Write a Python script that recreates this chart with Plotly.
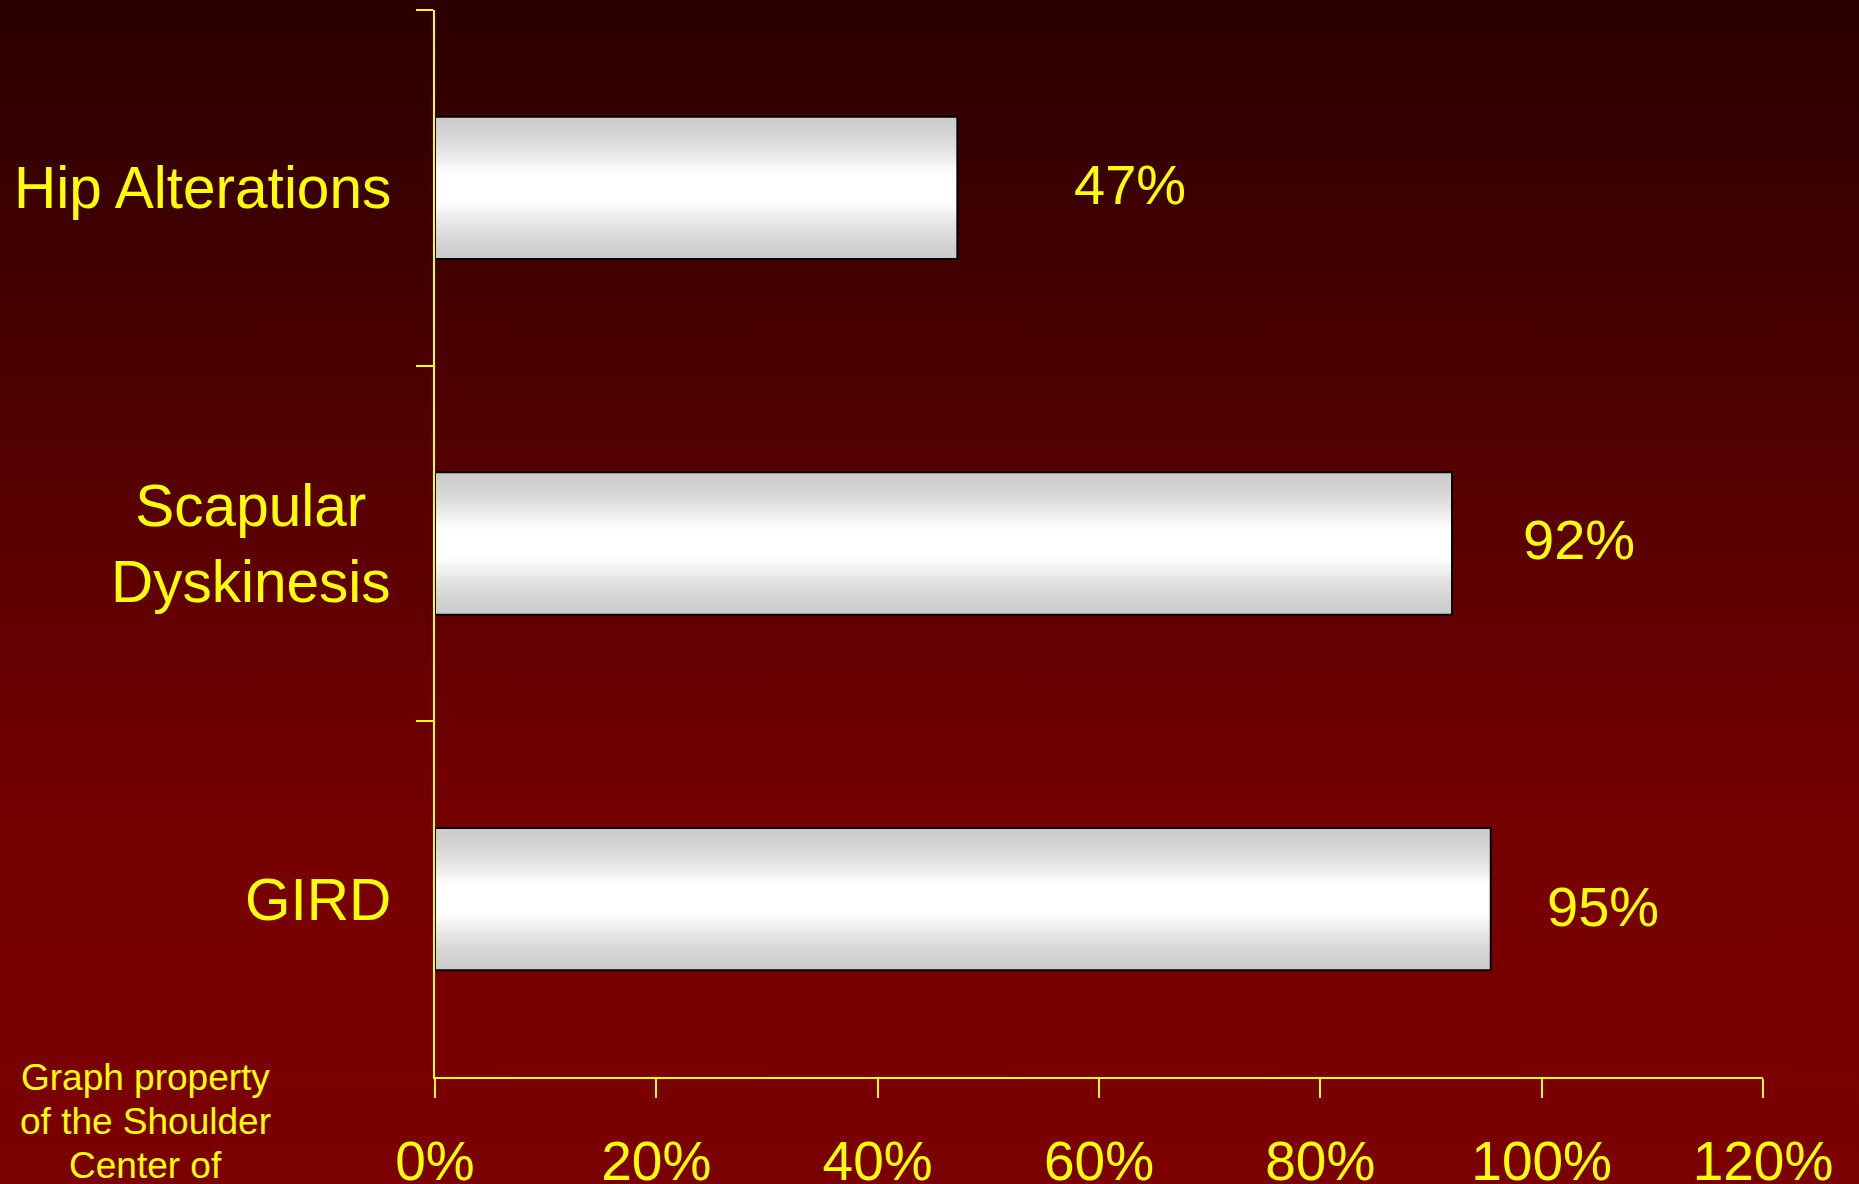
import base64
import plotly.graph_objects as go

# ---- data ----
categories = ["Hip Alterations", "Scapular Dyskinesis", "GIRD"]
category_labels = ["Hip Alterations", "Scapular<br>Dyskinesis", "GIRD"]
values = [47.2, 91.9, 95.4]
value_labels = ["47%", "92%", "95%"]
x_tickvals = [0, 20, 40, 60, 80, 100, 120]
x_ticktext = ["0%", "20%", "40%", "60%", "80%", "100%", "120%"]
footer_lines = ["Graph property", "of the Shoulder", "Center of"]

# ---- style ----
YELLOW = "#ffff00"
FONT = "Arial, 'Liberation Sans', sans-serif"
W, H = 1859, 1184
ML, MR, MT, MB = 435, 96, 10, 107
BAR_W = 0.40
label_xshift = [115, 69, 54]
label_yshift = [3, 4, -7]

fig = go.Figure()

# gradient bars approximated by stacked overlay layers (grey edges -> white centre)
n_layers = 24
for k in range(n_layers):
    frac = k / n_layers
    t = min(1.0, frac / 0.78)
    t = t ** 1.4
    g = int(round(204 + 51 * t))
    fig.add_trace(go.Bar(
        x=values, y=categories, orientation="h",
        width=BAR_W * (1 - frac),
        marker=dict(color=f"rgb({g},{g},{g})", line=dict(width=0)),
        hoverinfo="skip", showlegend=False,
    ))
# outline
fig.add_trace(go.Bar(
    x=values, y=categories, orientation="h", width=BAR_W,
    marker=dict(color="rgba(0,0,0,0)", line=dict(color="#000000", width=2)),
    hoverinfo="skip", showlegend=False,
))

# value labels
for cat, v, txt, dx, dy in zip(categories, values, value_labels, label_xshift, label_yshift):
    fig.add_annotation(x=v, y=cat, xref="x", yref="y", text=txt, showarrow=False,
                       xanchor="left", yanchor="middle", xshift=dx, yshift=dy,
                       font=dict(family=FONT, size=56, color=YELLOW))

# category labels
for cat, lab in zip(categories, category_labels):
    fig.add_annotation(x=0, y=cat, xref="paper", yref="y", text=lab, showarrow=False,
                       xanchor="right", yanchor="middle", xshift=-42, align="center",
                       font=dict(family=FONT, size=58.5, color=YELLOW))

# footer (one annotation per line for tighter spacing)
for i, line in enumerate(footer_lines):
    fig.add_annotation(x=0, y=0, xref="paper", yref="paper", text=line, showarrow=False,
                       xanchor="center", yanchor="top", xshift=-290, yshift=22 - i * 44,
                       font=dict(family=FONT, size=37, color=YELLOW))

# background gradient
svg = ('<svg xmlns="http://www.w3.org/2000/svg" width="100" height="100" viewBox="0 0 100 100" '
       'preserveAspectRatio="none"><defs><linearGradient id="g" x1="0" y1="0" x2="0" y2="1">'
       '<stop offset="0" stop-color="#2a0000"/><stop offset="0.35" stop-color="#4f0000"/>'
       '<stop offset="0.7" stop-color="#760000"/><stop offset="1" stop-color="#7b0000"/>'
       '</linearGradient></defs><rect x="0" y="0" width="100" height="100" fill="url(#g)"/></svg>')
src = "data:image/svg+xml;base64," + base64.b64encode(svg.encode()).decode()
pw, ph = W - ML - MR, H - MT - MB
fig.add_layout_image(dict(source=src, xref="paper", yref="paper",
                          x=-ML / pw, y=1 + MT / ph, sizex=W / pw, sizey=H / ph,
                          xanchor="left", yanchor="top", sizing="stretch", layer="below"))

fig.update_layout(
    width=W, height=H, margin=dict(l=ML, r=MR, t=MT, b=MB, pad=0, autoexpand=False),
    paper_bgcolor="#7b0000", plot_bgcolor="rgba(0,0,0,0)",
    barmode="overlay", showlegend=False,
    xaxis=dict(range=[0, 120], tickvals=x_tickvals, ticktext=x_ticktext,
               showline=True, linecolor=YELLOW, linewidth=1.5,
               ticks="outside", ticklen=19, tickwidth=1.5, tickcolor=YELLOW,
               showgrid=False, zeroline=False, ticklabelstandoff=16, automargin=False,
               tickfont=dict(family=FONT, size=55, color=YELLOW)),
    yaxis=dict(type="category", categoryorder="array", categoryarray=categories,
               autorange="reversed", showline=True, linecolor=YELLOW, linewidth=1.5,
               ticks="outside", ticklen=17, tickwidth=1.5, tickcolor=YELLOW, automargin=False,
               tickson="boundaries", showticklabels=False, showgrid=False, zeroline=False),
)

fig.write_html("out.html")
